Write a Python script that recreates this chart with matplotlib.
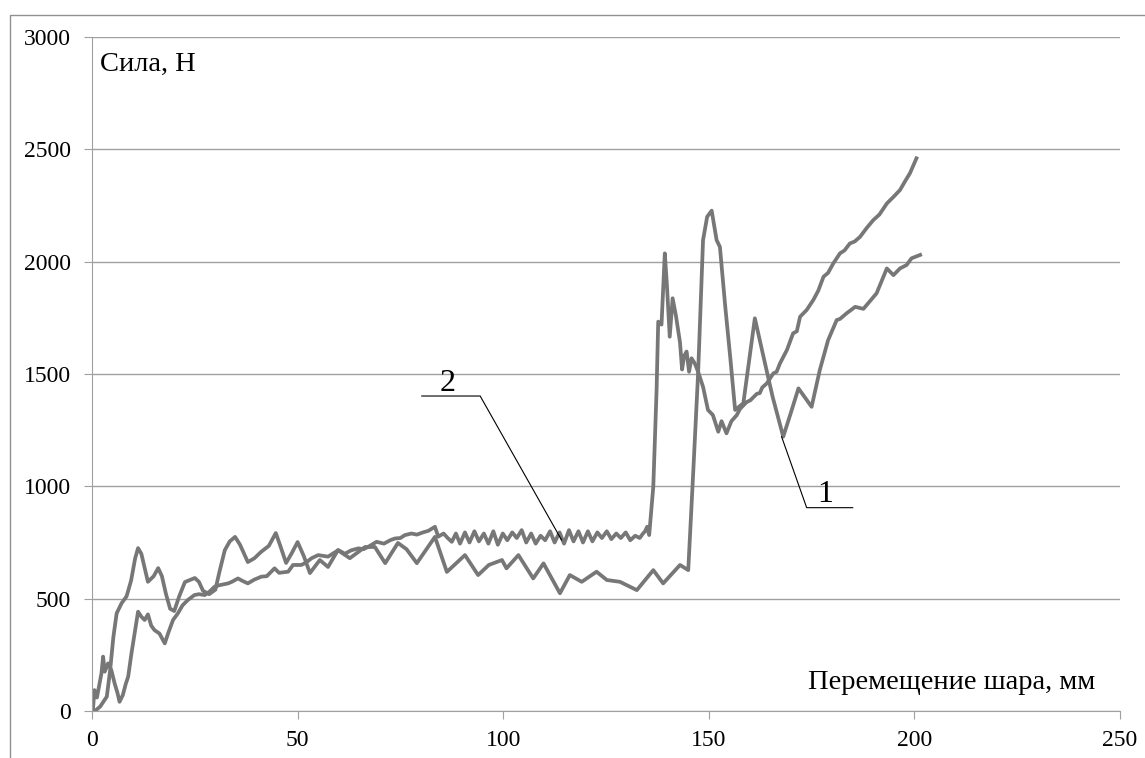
import matplotlib
matplotlib.use("Agg")
import matplotlib.pyplot as plt
from matplotlib.patches import Rectangle

plt.rcParams['font.family'] = ['Liberation Serif', 'DejaVu Serif']

# Кривая 1 (гладкая)
x1 = [0, 0.7, 2, 3.6, 4.4, 5.2, 6, 7.2, 8.4, 9.5, 10.5, 11.2, 12, 13.6, 15, 16.1, 17, 18, 19, 20,
      21.2, 22.6, 25, 26, 27, 28.5, 30, 31, 32.3, 33.5, 34.8, 36, 37.9, 39.5, 41.1, 43, 44.7, 45.7,
      47.2, 48.5, 50, 51.5, 53, 55.4, 57.4, 59.8, 62.7, 66.4, 68.8, 71.3, 74.4, 76.5, 79, 83.4,
      86.3, 90.7, 93.9, 96.5, 99.7, 100.8, 103.7, 107.3, 109.8, 113.8, 116.2, 119.1, 122.7, 125.2,
      128.4, 132.5, 136.5, 138.9, 143, 145, 146.2, 147.4, 148.6, 149.6, 150.7, 151.9, 152.7, 154,
      155.2, 156.4, 158.4, 161.2, 163.3, 165.5, 168.1, 170, 171.8, 175, 177, 179, 181.1, 181.9,
      183.5, 185.6, 187.6, 190.8, 193.3, 194.9, 196.5, 198.1, 199.3, 201.4]
y1 = [0, 0, 20, 64, 180, 330, 435, 480, 510, 580, 680, 725, 700, 575, 600, 636, 600, 520, 455, 445,
      510, 574, 592, 575, 535, 520, 540, 620, 716, 755, 775, 740, 663, 680, 708, 735, 792, 740,
      659, 700, 752, 690, 614, 672, 641, 716, 680, 730, 730, 658, 748, 720, 658, 775,
      619, 694, 605, 650, 672, 635, 694, 590, 657, 524, 605, 575, 620, 583,
      575, 538, 627, 568, 650, 627, 1058, 1503, 2096, 2200, 2227, 2096, 2066, 1800,
      1577, 1340, 1370, 1748, 1577, 1400, 1221, 1330, 1436, 1354, 1518, 1650, 1740, 1745,
      1770, 1799, 1790, 1859, 1970, 1940, 1970, 1985, 2015, 2030]

# Кривая 2 (с колебаниями)
x2 = [0, 0.2, 0.6, 1.2, 1.8, 2.3, 2.7, 3.1, 3.9, 4.7, 5.5, 6.2, 6.7, 7.5, 8.2, 8.8, 9.6, 10.4,
      11.2, 12, 12.8, 13.6, 14.4, 15.2, 16.4, 17.7, 18.5, 19.7, 20.9, 22, 23.3, 24.9, 26, 27.4,
      28.5, 29.8, 31, 33.1, 34, 35.5, 36.5, 37.9, 39.5, 41.2, 42.5, 44.4, 45.5, 47.7, 48.9, 50.9,
      52, 53.4, 55, 57.4, 58.5, 59.9, 61.5, 63, 64.8, 66, 67.2, 69.2, 71, 72.5, 73.7, 75, 76.1,
      77.7, 79, 80.5, 81.8, 83.4, 84.2, 85.5, 86.5, 87.5,
      88.5, 89.5, 90.7, 91.8, 93.0, 94.1, 95.3, 96.4, 97.6, 98.7, 99.9, 101.0, 102.2, 103.3,
      104.5, 105.6, 106.8, 107.9, 109.1, 110.2, 111.4, 112.5, 113.7, 114.8, 116.0, 117.1, 118.3,
      119.4, 120.6, 121.7, 122.9, 124.0, 125.2, 126.3, 127.5, 128.6, 129.8, 130.9, 132.1, 133.2,
      134.0, 134.5, 135.0, 135.5, 136.5, 137.3, 137.7, 138.5, 139.3, 139.8, 140.5, 141.2, 142.0,
      142.5, 143.0, 143.5, 144.0, 144.6, 145.2, 145.8, 146.6, 147.4, 148.6, 149.8, 151, 152.3,
      153.1, 154.3, 155.5, 156.8, 157.6, 158.4, 159.2, 160.1, 161.7, 162.4, 163, 164.1, 165.7,
      166.5, 167.3, 169, 170.5, 171.4, 172.2, 173.8, 175.4, 176.6, 177.9, 179, 180.3, 181.9,
      183, 184.3, 185.5, 186.8, 188.4, 190, 191.5, 193.3, 195, 196.5, 197.8, 198.9, 200.5]
y2 = [0, 0, 93, 60, 120, 168, 242, 175, 212, 182, 123, 80, 41, 71, 120, 153, 257, 350,
      442, 420, 405, 430, 380, 360, 345, 301, 345, 405, 435, 470, 494, 516, 520, 516,
      530, 553, 560, 568, 575, 590, 580, 568, 585, 598, 600, 635, 615, 620, 650, 650,
      660, 680, 694, 687, 700, 716, 700, 715, 724, 720, 731, 753, 745, 760, 768, 770, 783,
      790, 785, 795, 802, 820, 776, 790, 770, 753,
      790, 745, 795, 750, 800, 755, 790, 745, 800, 740, 790, 760, 795, 770,
      805, 750, 790, 745, 780, 760, 800, 750, 795, 745, 805, 755, 800,
      750, 800, 755, 795, 770, 800, 765, 790, 770, 795, 760, 780, 770,
      790, 800, 820, 783, 998, 1428, 1733, 1720, 2037, 1900, 1666, 1837, 1760,
      1700, 1640, 1520, 1580, 1600, 1510, 1570, 1547, 1510, 1443, 1340, 1317, 1243,
      1290, 1236, 1290, 1317, 1345, 1360, 1375, 1383, 1412, 1415, 1440, 1458, 1503,
      1510, 1547, 1607, 1681, 1690, 1755, 1785, 1829, 1870, 1933, 1950, 1993, 2037,
      2050, 2081, 2090, 2111, 2150, 2185, 2210, 2259, 2290, 2319, 2360, 2393, 2460]

xticks = [0, 50, 100, 150, 200, 250]
yticks = [0, 500, 1000, 1500, 2000, 2500, 3000]

fig = plt.figure(figsize=(11.45, 7.58), dpi=100)
ax = fig.add_axes([92 / 1145, 47 / 758, 1028 / 1145, 674 / 758])

line_color = '#777777'
ax.plot(x1, y1, color=line_color, lw=2.7, solid_joinstyle='round')
ax.plot(x2, y2, color=line_color, lw=2.7, solid_joinstyle='round')

ax.set_xlim(0, 250)
ax.set_ylim(0, 3000)
ax.set_xticks(xticks)
ax.set_yticks(yticks)
ax.grid(axis='y', color='#a0a0a0', lw=1)
ax.set_axisbelow(True)
for s in ['top', 'right']:
    ax.spines[s].set_visible(False)
for s in ['left', 'bottom']:
    ax.spines[s].set_color('#a0a0a0')
ax.tick_params(axis='both', colors='#a0a0a0', labelcolor='black', labelsize=17, length=6)
ax.tick_params(axis='y', pad=9)
ax.tick_params(axis='x', pad=8)

ax.text(2, 2935, 'Сила, Н', fontsize=20.5, va='top', ha='left')
ax.text(244, 70, 'Перемещение шара, мм', fontsize=20.5, va='bottom', ha='right')

# выноски
ax.plot([80.2, 94.4, 114.2], [1402, 1402, 761], color='black', lw=0.8)
ax.text(86.6, 1395, '2', fontsize=23, ha='center', va='bottom')
ax.plot([167.7, 173.8, 185], [1221, 905, 905], color='black', lw=0.8)
ax.text(178.3, 898, '1', fontsize=23, ha='center', va='bottom')

fig.add_artist(Rectangle((10 / 1145, -0.1), 2, 1 - 15 / 758 + 0.1, transform=fig.transFigure,
                         fill=False, edgecolor='#909090', lw=1))

fig.savefig('out.png', dpi=100)
